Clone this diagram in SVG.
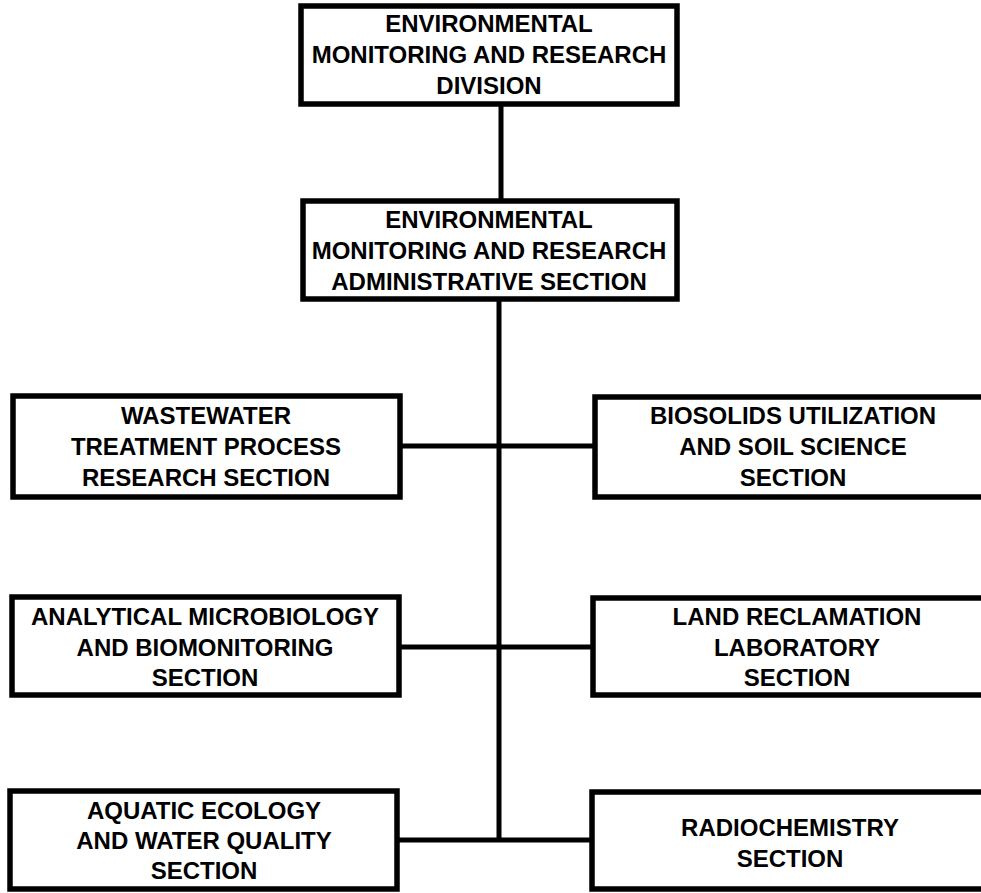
<svg xmlns="http://www.w3.org/2000/svg" width="981" height="893" viewBox="0 0 981 893">
  <style>
    .box { fill: #ffffff; stroke: #000000; stroke-width: 5.5; }
    .wire { stroke: #000000; stroke-width: 5; fill: none; stroke-linecap: butt; }
    text { font-family: "Liberation Sans", Arial, Helvetica, sans-serif; font-weight: bold; font-size: 24px; fill: #000000; text-anchor: middle; }
  </style>
  <rect width="981" height="893" fill="#ffffff"/>

  <!-- connectors -->
  <g id="connectors">
    <line class="wire" x1="501" y1="104" x2="501" y2="201"/>
    <line class="wire" x1="499" y1="299" x2="499" y2="842"/>
    <line class="wire" x1="399" y1="446" x2="594" y2="446"/>
    <line class="wire" x1="399" y1="647" x2="593" y2="647"/>
    <line class="wire" x1="397" y1="840" x2="592" y2="840"/>
  </g>

  <!-- division head -->
  <g id="division">
    <rect class="box" x="301" y="6" width="376" height="98"/>
    <text x="489" y="32">ENVIRONMENTAL</text>
    <text x="489" y="63">MONITORING AND RESEARCH</text>
    <text x="489" y="94">DIVISION</text>
  </g>

  <!-- administrative section -->
  <g id="admin">
    <rect class="box" x="303" y="201" width="374" height="98"/>
    <text x="489" y="228">ENVIRONMENTAL</text>
    <text x="489" y="259">MONITORING AND RESEARCH</text>
    <text x="489" y="290">ADMINISTRATIVE SECTION</text>
  </g>

  <!-- first row -->
  <g id="wastewater">
    <rect class="box" x="13" y="396" width="387" height="101"/>
    <text x="206" y="424">WASTEWATER</text>
    <text x="206" y="455">TREATMENT PROCESS</text>
    <text x="206" y="486">RESEARCH SECTION</text>
  </g>
  <g id="biosolids">
    <rect class="box" x="595" y="397" width="400" height="100"/>
    <text x="793" y="424">BIOSOLIDS UTILIZATION</text>
    <text x="793" y="455">AND SOIL SCIENCE</text>
    <text x="793" y="486">SECTION</text>
  </g>

  <!-- second row -->
  <g id="microbiology">
    <rect class="box" x="12" y="597" width="387" height="98"/>
    <text x="205" y="625">ANALYTICAL MICROBIOLOGY</text>
    <text x="205" y="656">AND BIOMONITORING</text>
    <text x="205" y="686">SECTION</text>
  </g>
  <g id="land-reclamation">
    <rect class="box" x="593" y="598" width="400" height="97"/>
    <text x="797" y="625">LAND RECLAMATION</text>
    <text x="797" y="656">LABORATORY</text>
    <text x="797" y="686">SECTION</text>
  </g>

  <!-- third row -->
  <g id="aquatic">
    <rect class="box" x="10" y="791" width="387" height="98"/>
    <text x="204" y="819">AQUATIC ECOLOGY</text>
    <text x="204" y="849">AND WATER QUALITY</text>
    <text x="204" y="879">SECTION</text>
  </g>
  <g id="radiochemistry">
    <rect class="box" x="592" y="792" width="400" height="97"/>
    <text x="790" y="836">RADIOCHEMISTRY</text>
    <text x="790" y="867">SECTION</text>
  </g>
</svg>
